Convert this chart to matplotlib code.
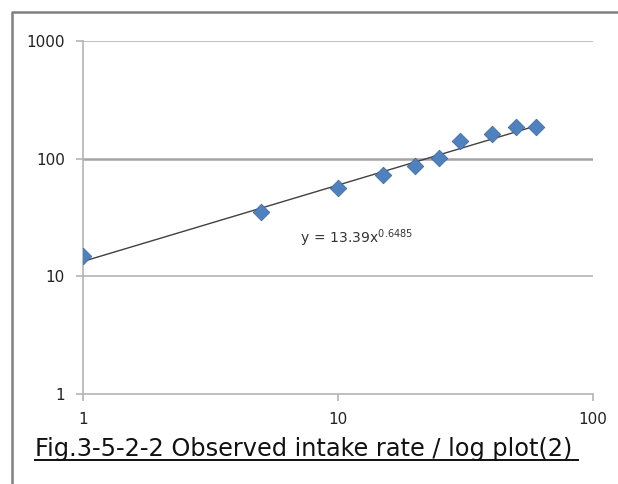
import numpy as np
import matplotlib.pyplot as plt
from matplotlib.lines import Line2D
from matplotlib.ticker import FixedLocator, FixedFormatter, NullLocator

# observed intake rate
x_vals = [1, 5, 10, 15, 20, 25, 30, 40, 50, 60]
y_vals = [15, 35, 56, 73, 86, 101, 141, 162, 185, 187]

# power trendline y = a * x^b
coef_a = 13.39
coef_b = 0.6485

x_ticks = [1, 10, 100]
y_ticks = [1, 10, 100, 1000]

fig = plt.figure(figsize=(6.18, 4.84), dpi=100)
ax = fig.add_axes([83 / 618, 1 - 394 / 484, 510 / 618, 353 / 484])

ax.set_xscale('log')
ax.set_yscale('log')
ax.set_xlim(1, 100)
ax.set_ylim(1, 1000)

# horizontal gridlines only, the 100 line a bit heavier
for yv in y_ticks[1:]:
    ax.axhline(yv, color='#a4a4a4' if yv == 100 else '#b4b4b4',
               lw=1.8 if yv == 100 else 1.2, zorder=1)

# trendline across the data range
xt = np.linspace(min(x_vals), max(x_vals), 200)
ax.plot(xt, coef_a * xt ** coef_b, color='#404040', lw=1.0, zorder=2)

ax.scatter(x_vals, y_vals, marker='D', s=72, color='#4f81bd',
           edgecolor='#3a659a', lw=0.5, zorder=3)

ax.text(7.1, 21.0, r'$\mathregular{y\,=\,%.2fx^{%.4f}}$' % (coef_a, coef_b),
        fontsize=10, color='#333333', va='center', ha='left')

for s in ['top', 'right']:
    ax.spines[s].set_visible(False)
for s in ['left', 'bottom']:
    ax.spines[s].set_color('#b4b4b4')
    ax.spines[s].set_linewidth(1.2)

ax.xaxis.set_major_locator(FixedLocator(x_ticks))
ax.xaxis.set_major_formatter(FixedFormatter([str(v) for v in x_ticks]))
ax.yaxis.set_major_locator(FixedLocator(y_ticks))
ax.yaxis.set_major_formatter(FixedFormatter([str(v) for v in y_ticks]))
ax.xaxis.set_minor_locator(NullLocator())
ax.yaxis.set_minor_locator(NullLocator())
ax.tick_params(axis='both', colors='#b4b4b4', length=5, width=1.2,
               labelcolor='#222222', labelsize=11)
ax.tick_params(axis='y', pad=8)
ax.tick_params(axis='x', pad=8)

# frame: left and top edges only, running off the image
fx, fy = 11.5 / 618, 1 - 12 / 484
fig.add_artist(Line2D([fx, fx, 1.05], [-0.05, fy, fy],
                      transform=fig.transFigure, color='#808080', lw=1.8))

# underlined caption
fig.text(35 / 618, 1 - 456 / 484, 'Fig.3-5-2-2 Observed intake rate / log plot(2)',
         fontsize=17.3, color='#111111', ha='left', va='baseline')
fig.add_artist(Line2D([35 / 618, 578 / 618], [1 - 460 / 484, 1 - 460 / 484],
                      transform=fig.transFigure, color='#111111', lw=1.4))

fig.savefig('out.png', dpi=100)
